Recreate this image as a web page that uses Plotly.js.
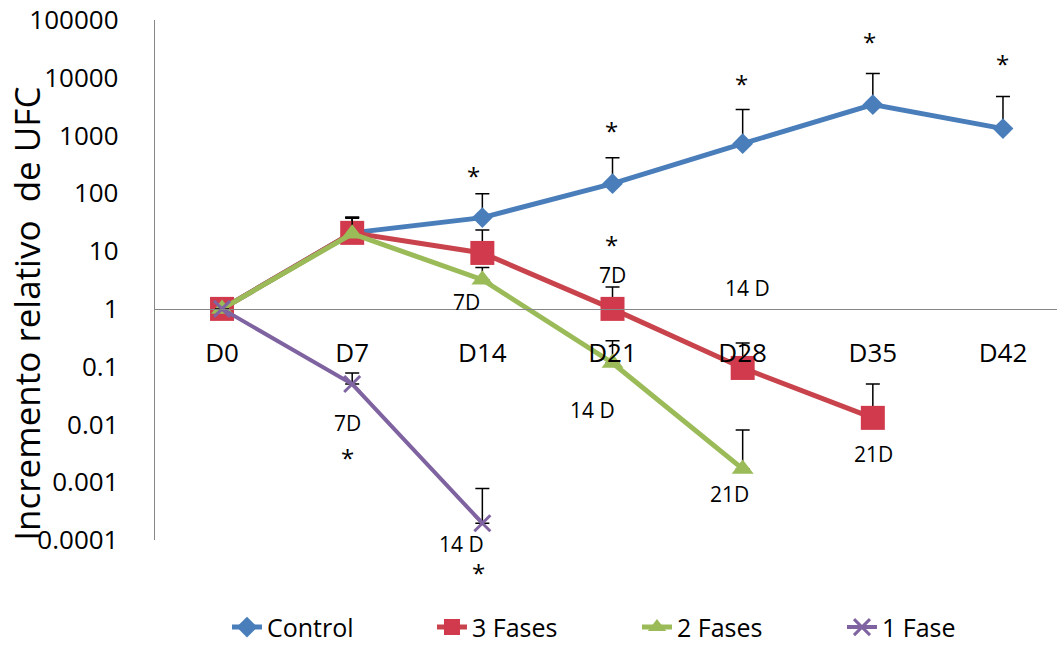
<!DOCTYPE html>
<html>
<head>
<meta charset="utf-8">
<script src="https://cdn.plot.ly/plotly-3.0.1.min.js"></script>
<style>html,body{margin:0;padding:0;background:#fff;}#chart{width:1057px;height:646px;}</style>
</head>
<body>
<div id="chart"></div>
<script>
// ---- data ----
const days = ['D0','D7','D14','D21','D28','D35','D42'];
const seriesNames = ['Control','3 Fases','2 Fases','1 Fase'];
const control      = [1, 20.7, 38, 147, 724, 3430, 1320];
const controlErr   = [null, 18, 60, 267, 2090, 8400, 3400];
const fases3       = [1, 20.7, 9.3, 1.0, 0.095, 0.013, null];
const fases3Err    = [null, 18, 14, 1.4, 0.163, 0.037, null];
const fases2       = [1, 20, 3.2, 0.116, 0.0017, null, null];
const fases2Err    = [null, 17, 2, 0.164, 0.0063, null, null];
const fase1        = [1, 0.05, 0.000195, null, null, null, null];
const fase1Err     = [null, 0.028, 0.00058, null, null, null, null];
const yTickVals    = [0.0001, 0.001, 0.01, 0.1, 1, 10, 100, 1000, 10000, 100000];
const yTickText    = ['0.0001','0.001','0.01','0.1','1','10','100','1000','10000','100000'];
// notes: [series index, day index, text]
const noteSeries = [0,0,0,0,0, 1,1,1,1, 2,2,2, 3,3,3,3];
const noteDay    = [2,3,4,5,6, 3,3,4,5, 2,3,4, 1,1,2,2];
const noteText   = ['*','*','*','*','*', '*','7D','14 D','21D', '7D','14 D','21D', '7D','*','14 D','*'];

// ---- styling (positions relative to points, px) ----
const noteDx = [-9,-1,-1,-3,0, -1,0,5,1, -16,-20,-13, -5,-5,-21,-4];
const noteDy = [-45,-56,-63,-66,-68, -67,-34,-80,36, 22,47,25, 39,70,21,46];

const allSeries = [control, fases3, fases2, fase1];
const allErr = [controlErr, fases3Err, fases2Err, fase1Err];
const lineColors = ['#4a7ebb','#c8434c','#9bbb59','#7f63a1'];
const markerColors = ['#4a7ebb','#d03a4c','#9bbb59','#8064a2'];
const symbols = ['diamond','square','triangle-up','x-thin-open'];
const sizes = [16, 24, 19, 16];
const widths = [5, 5, 5, 4];

const traces = allSeries.map((s, i) => ({
  type: 'scatter', mode: 'lines+markers',
  name: seriesNames[i], x: days, y: s,
  line: {color: lineColors[i], width: widths[i]},
  marker: symbols[i] === 'x-thin-open'
    ? {symbol: symbols[i], size: sizes[i], color: markerColors[i], line: {color: markerColors[i], width: 3}}
    : {symbol: symbols[i], size: sizes[i], color: markerColors[i], line: {width: 0}},
  error_y: {type: 'data', symmetric: false, array: allErr[i],
            arrayminus: allErr[i].map(v => v == null ? null : 0),
            color: '#000', thickness: 1.5, width: 7},
  hoverinfo: 'skip'
}));

const font = 'Open Sans, sans-serif';
const annotations = noteText.map((t, k) => {
  const isStar = t === '*';
  return {
    x: days[noteDay[k]], y: Math.log10(allSeries[noteSeries[k]][noteDay[k]]),
    xref: 'x', yref: 'y', text: t, showarrow: false,
    xanchor: 'center', yanchor: 'middle',
    xshift: noteDx[k], yshift: -(noteDy[k] + (isStar ? 3 : 0)),
    font: {family: font, size: isStar ? 24 : 21, color: '#000'}
  };
});
annotations.push({
  xref: 'paper', yref: 'paper', x: -0.142, y: 0.435, xanchor: 'center', yanchor: 'middle',
  text: 'Incremento relativo  de UFC', textangle: -90, showarrow: false,
  font: {family: font, size: 35, color: '#000'}
});

const layout = {
  width: 1057, height: 646,
  margin: {l: 155, r: 0, t: 20, b: 106, autoexpand: false},
  paper_bgcolor: '#fff', plot_bgcolor: '#fff',
  font: {family: font, color: '#000'},
  showlegend: true,
  legend: {orientation: 'h', x: 0.0798, xanchor: 'left', y: -0.168, yanchor: 'middle',
           font: {family: font, size: 25, color: '#000'}, entrywidth: 160},
  xaxis: {type: 'category', range: [-0.515, 6.415], anchor: 'free', position: 4/9,
          showline: true, linecolor: '#868686', linewidth: 1.3, showgrid: false, zeroline: false,
          ticks: '', ticklabelstandoff: 21, tickfont: {family: font, size: 26, color: '#000'}},
  yaxis: {type: 'log', range: [-4, 5], tickvals: yTickVals, ticktext: yTickText,
          showline: true, linecolor: '#868686', linewidth: 1.3, showgrid: false, zeroline: false,
          ticks: '', ticklabelstandoff: 30, tickfont: {family: font, size: 26, color: '#000'}},
  annotations: annotations
};

Plotly.newPlot('chart', traces, layout, {staticPlot: true, displayModeBar: false});
</script>
</body>
</html>
